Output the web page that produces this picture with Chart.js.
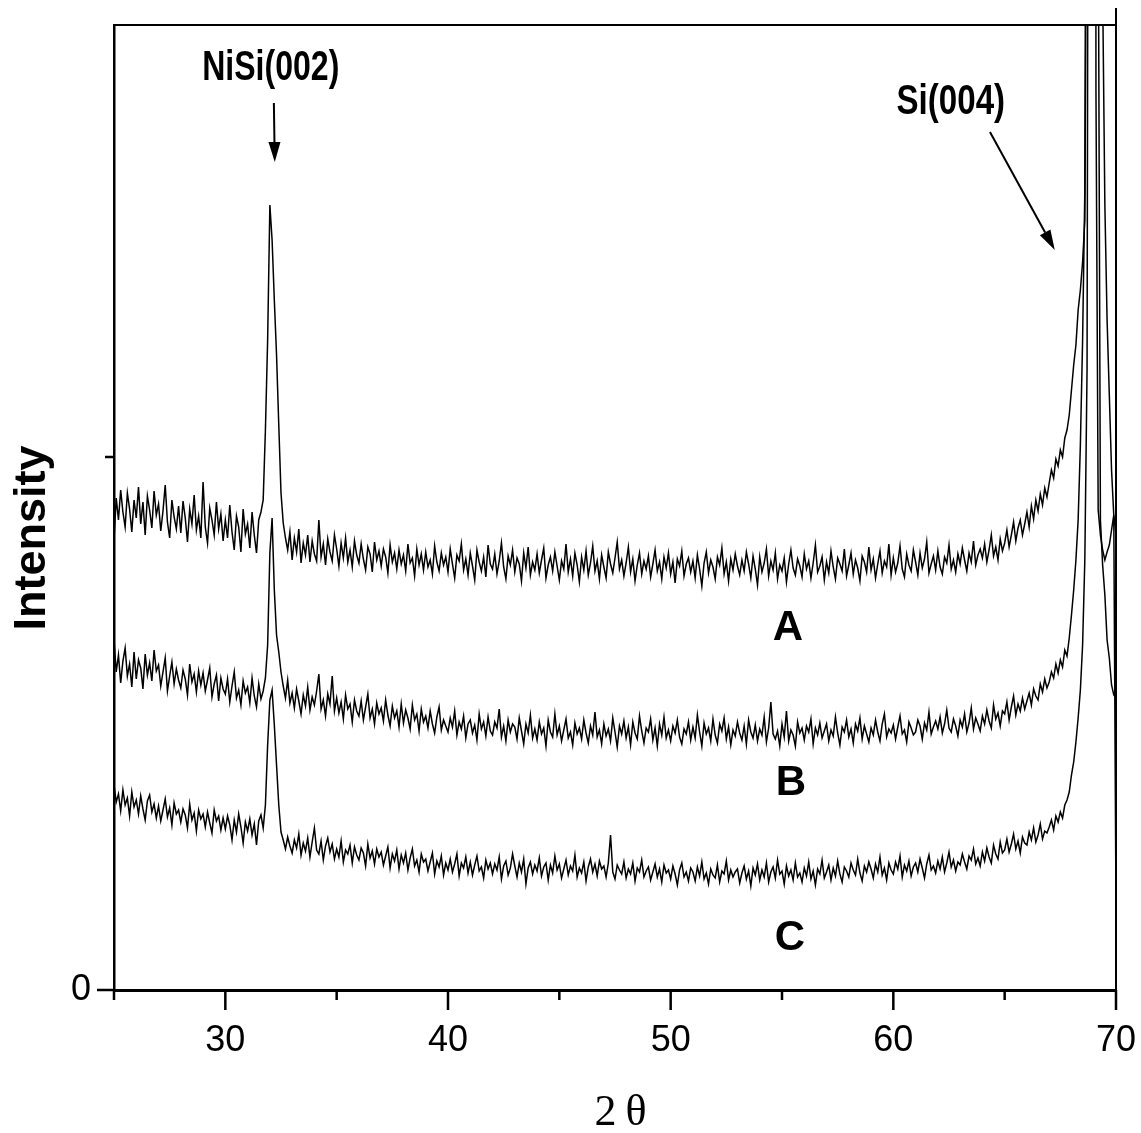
<!DOCTYPE html>
<html>
<head>
<meta charset="utf-8">
<script src="https://cdn.jsdelivr.net/npm/chart.js@4.4.1/dist/chart.umd.min.js"></script>
<style>
  html, body { margin: 0; padding: 0; background: #fff; }
  #c { display: block; }
</style>
</head>
<body>
<canvas id="c" width="1141" height="1133"></canvas>
<script>
// 2θ scan grid (degrees)
const scanStart = 25.0;
const scanStep = 0.1;

// Curve A intensities (a.u.), one value per 0.1° from 25.0 to 70.0
const seriesA = [
  450,492,470,500,478,463,497,481,458,490,
  472,503,466,488,455,494,480,462,499,475,
  486,459,479,505,468,452,490,473,461,484,
  457,489,472,448,481,466,495,460,474,452,
  508,463,447,482,470,455,488,461,476,449,
  470,452,485,458,440,474,463,438,481,456,
  466,442,478,455,437,470,478,490,560,650,
  785,750,690,635,565,497,467,452,440,458,
  430,452,438,461,427,447,435,455,428,449,
  436,429,470,433,446,425,451,438,429,455,
  441,424,447,432,452,428,440,423,449,435,
  427,446,431,420,443,436,418,448,430,439,
  424,441,433,417,445,428,437,421,440,426,
  435,419,446,427,432,414,441,425,436,420,
  438,423,430,416,444,428,419,437,425,433,
  418,441,426,412,435,429,446,420,431,415,
  437,424,410,440,428,419,433,413,445,426,
  421,436,416,429,447,423,411,434,425,440,
  418,432,426,409,437,422,443,415,428,420,
  436,417,430,442,412,425,433,419,438,424,
  410,429,421,446,418,431,414,437,425,408,
  433,420,439,415,427,444,419,429,411,435,
  423,412,438,426,417,432,448,421,430,414,
  427,443,418,431,409,425,437,416,429,421,
  434,413,426,440,419,428,411,433,422,437,
  416,428,407,431,424,439,414,426,432,418,
  429,412,435,421,404,427,438,417,430,423,
  411,433,425,442,416,428,409,431,420,436,
  424,415,430,419,438,426,412,434,421,405,
  433,418,427,441,414,429,420,437,411,425,
  419,432,408,426,440,422,415,431,424,413,
  436,421,429,412,427,445,418,424,433,410,
  428,417,439,423,411,432,426,419,441,414,
  425,437,416,430,422,409,434,428,418,443,
  420,431,412,426,439,417,429,423,446,415,
  432,418,427,444,421,413,436,425,419,440,
  428,415,437,422,431,448,417,426,434,420,
  439,423,416,433,427,445,421,430,418,436,
  426,442,430,419,437,428,449,425,435,441,
  432,446,428,440,455,434,443,430,451,439,
  447,460,443,455,468,449,462,470,455,466,
  478,463,484,471,490,479,496,485,502,493,
  507,520,512,531,524,540,533,552,560,575,
  600,625,645,680,700,728,770,1200,3000,5200,
  6000,4800,3000,1800,1000,785,670,595,520,475,
  455
];

// Curve B intensities (a.u.)
const seriesB = [
  350,318,335,307,329,342,314,326,303,338,
  311,330,322,301,336,315,327,309,340,319,
  325,304,318,332,299,314,328,306,321,310,
  302,320,311,295,326,308,316,298,319,305,
  317,299,310,322,293,306,315,289,312,301,
  296,311,288,304,318,292,300,285,309,297,
  303,287,312,294,283,306,291,299,312,345,
  437,472,400,355,338,318,304,292,310,287,
  297,282,301,289,276,295,284,303,280,293,
  285,299,316,281,290,274,296,286,314,279,
  292,277,288,271,295,281,286,268,290,279,
  274,289,270,283,296,272,281,266,287,276,
  282,269,290,275,264,284,272,279,263,286,
  267,280,272,261,285,270,276,259,281,268,
  274,262,279,266,257,273,283,260,270,264,
  258,272,263,279,255,268,261,274,252,266,
  270,257,265,250,276,261,268,254,273,259,
  255,268,262,281,253,264,249,270,258,266,
  263,251,272,259,246,266,257,275,252,261,
  250,268,256,262,244,270,258,253,276,255,
  264,249,260,271,252,258,245,267,256,262,
  251,270,257,247,264,255,278,253,260,246,
  266,254,261,249,272,258,243,264,256,269,
  252,263,245,268,257,251,274,259,247,262,
  258,271,250,262,244,266,255,273,252,260,
  249,264,257,270,253,246,261,256,268,250,
  263,252,275,258,244,267,256,262,249,271,
  255,247,266,259,272,251,263,245,260,254,
  268,257,250,264,246,270,258,252,265,249,
  261,255,273,248,262,288,256,251,259,244,
  266,253,279,249,260,255,244,268,257,262,
  250,264,258,271,246,262,255,267,252,259,
  266,249,260,254,273,257,245,263,258,270,
  253,261,247,266,259,272,251,264,256,248,
  262,255,270,258,249,266,276,253,261,257,
  265,251,263,274,256,260,248,268,262,255,
  258,270,264,251,267,260,278,256,263,269,
  261,273,257,266,280,262,258,271,264,254,
  270,263,276,258,267,282,261,272,266,259,
  274,266,280,269,262,285,271,277,264,279,
  276,288,270,283,294,275,286,279,292,281,
  289,297,285,301,294,290,306,298,311,302,
  308,318,312,326,317,330,323,340,334,352,
  375,400,430,470,545,650,800,1600,3800,5500,
  5000,2600,1100,470,425,395,350,332,305,295,
  292
];

// Curve C intensities (a.u.)
const seriesC = [
  205,188,196,179,200,185,192,174,198,183,
  190,176,194,181,170,189,195,178,186,172,
  184,169,180,191,173,182,165,187,176,180,
  168,181,175,162,186,170,177,159,180,171,
  176,163,178,167,157,180,169,174,160,172,
  161,174,165,150,170,158,176,163,147,168,
  159,171,155,166,145,169,175,162,185,245,
  290,300,265,225,185,158,150,141,153,144,
  137,150,142,156,135,147,139,152,133,148,
  162,140,136,149,130,144,152,138,146,131,
  141,133,149,128,140,136,145,127,143,135,
  130,142,137,124,146,132,139,126,141,133,
  138,125,134,143,122,136,129,140,121,135,
  127,137,120,132,141,124,130,118,136,128,
  131,119,128,137,116,129,123,134,115,127,
  120,131,118,126,136,114,127,122,133,117,
  128,115,125,134,119,123,112,130,121,127,
  116,126,120,133,111,124,129,115,122,136,
  124,113,127,118,131,106,122,128,116,125,
  119,132,114,123,127,110,125,117,134,120,
  126,112,121,130,115,124,119,135,113,122,
  117,128,109,123,131,118,126,114,129,121,
  124,113,127,155,118,111,125,120,116,128,
  112,121,116,127,109,122,118,130,113,119,
  123,110,118,126,113,121,108,125,117,120,
  111,124,116,105,120,127,113,118,109,122,
  118,109,123,114,128,111,117,106,121,115,
  112,125,108,119,116,129,110,120,113,118,
  121,107,117,124,111,119,104,122,115,126,
  110,120,113,127,108,118,123,112,130,116,
  119,106,124,114,120,110,127,113,117,108,
  122,114,128,111,119,105,121,116,130,112,
  118,125,110,122,114,129,116,108,123,119,
  113,127,120,115,131,117,109,124,118,128,
  121,112,126,118,133,115,122,110,127,120,
  116,128,121,134,113,125,119,129,114,123,
  127,118,131,122,112,126,135,120,124,117,
  129,121,133,118,127,138,123,130,119,128,
  125,136,128,121,134,130,141,126,132,124,
  138,129,142,133,127,145,136,131,148,137,
  140,151,138,146,156,141,149,137,153,147,
  145,158,150,162,148,155,166,151,159,157,
  163,170,160,174,168,178,172,185,190,198,
  215,228,248,272,300,345,430,620,1800,4500,
  3800,900,480,455,440,430,438,445,460,475,
  80
];

// Axis tick values
const xMajorTicks = [30, 40, 50, 60, 70];
const xMinorTicks = [25, 35, 45, 55, 65];
const yTickValues = [0, 533];
const yTickLabels = ['0', ''];

// Annotation texts
const peakLabels = ['NiSi(002)', 'Si(004)'];
const curveLabels = ['A', 'B', 'C'];

const twoTheta = seriesA.map((_, i) => +(scanStart + i * scanStep).toFixed(2));
const toPts = s => s.map((v, i) => ({ x: twoTheta[i], y: v }));

const zeroPad = s => { s.paddingTop = 0; s.paddingBottom = 0; s.paddingLeft = 0; s.paddingRight = 0; };

const decorPlugin = {
  id: 'decor',
  afterDraw(chart) {
    const ctx = chart.ctx;
    const xs = chart.scales.x, ys = chart.scales.y;
    const a = chart.chartArea;
    ctx.save();
    ctx.strokeStyle = '#000';
    ctx.fillStyle = '#000';
    // frame top/right
    ctx.lineWidth = 2;
    ctx.beginPath();
    ctx.moveTo(a.left, a.top); ctx.lineTo(a.right, a.top);
    ctx.moveTo(a.right, a.top - 17); ctx.lineTo(a.right, a.bottom);
    ctx.stroke();
    // x ticks (outward)
    ctx.lineWidth = 2.5;
    ctx.beginPath();
    xMajorTicks.forEach(v => { const p = xs.getPixelForValue(v); ctx.moveTo(p, a.bottom); ctx.lineTo(p, a.bottom + 20); });
    xMinorTicks.forEach(v => { const p = xs.getPixelForValue(v); ctx.moveTo(p, a.bottom); ctx.lineTo(p, a.bottom + 10); });
    ctx.stroke();
    // y ticks
    ctx.beginPath();
    yTickValues.forEach((v, i) => { const p = ys.getPixelForValue(v); ctx.moveTo(a.left, p); ctx.lineTo(a.left - (i === 0 ? 17 : 9), p); });
    ctx.stroke();

    const text = (t, x, y, font, sx) => {
      ctx.save();
      ctx.translate(x, y);
      ctx.scale(sx, 1);
      ctx.font = font;
      ctx.textAlign = 'center';
      ctx.textBaseline = 'alphabetic';
      ctx.fillText(t, 0, 0);
      ctx.restore();
    };
    const X = v => xs.getPixelForValue(v), Y = v => ys.getPixelForValue(v);
    // peak labels
    text(peakLabels[0], X(32.04), Y(910), 'bold 43px "Liberation Sans", Arial, sans-serif', 0.745);
    text(peakLabels[1], X(62.58), Y(876), 'bold 43px "Liberation Sans", Arial, sans-serif', 0.77);
    // curve labels
    text(curveLabels[0], X(55.27), Y(350), 'bold 42px "Liberation Sans", Arial, sans-serif', 1);
    text(curveLabels[1], X(55.4), Y(195), 'bold 42px "Liberation Sans", Arial, sans-serif', 1);
    text(curveLabels[2], X(55.35), Y(40), 'bold 42px "Liberation Sans", Arial, sans-serif', 1);

    // arrows
    const arrow = (x1, y1, x2, y2) => {
      const p1 = [X(x1), Y(y1)], p2 = [X(x2), Y(y2)];
      const ang = Math.atan2(p2[1] - p1[1], p2[0] - p1[0]);
      const L = 20, W = 6;
      const bx = p2[0] - L * Math.cos(ang), by = p2[1] - L * Math.sin(ang);
      ctx.lineWidth = 2;
      ctx.beginPath(); ctx.moveTo(p1[0], p1[1]); ctx.lineTo(bx, by); ctx.stroke();
      ctx.beginPath();
      ctx.moveTo(p2[0], p2[1]);
      ctx.lineTo(bx + W * Math.sin(ang), by - W * Math.cos(ang));
      ctx.lineTo(bx - W * Math.sin(ang), by + W * Math.cos(ang));
      ctx.closePath(); ctx.fill();
    };
    arrow(32.18, 887, 32.22, 828);
    arrow(64.34, 858, 67.25, 740);

    // axis titles
    ctx.save();
    ctx.translate(45, 538);
    ctx.rotate(-Math.PI / 2);
    ctx.font = 'bold 45px "Liberation Sans", Arial, sans-serif';
    ctx.textAlign = 'center';
    ctx.textBaseline = 'alphabetic';
    ctx.fillText('Intensity', 0, 0);
    ctx.restore();

    ctx.save();
    ctx.font = '44px "Liberation Serif", "Times New Roman", serif';
    ctx.textAlign = 'center';
    ctx.textBaseline = 'alphabetic';
    try { ctx.letterSpacing = '9px'; } catch (e) {}
    ctx.fillText('2θ', (a.left + a.right) / 2 + 10, 1125);
    ctx.restore();

    ctx.restore();
  }
};

const lineStyle = { borderColor: '#000', borderWidth: 1.5, pointRadius: 0, tension: 0, fill: false };

new Chart(document.getElementById('c'), {
  type: 'line',
  data: {
    datasets: [
      Object.assign({ label: 'A', data: toPts(seriesA) }, lineStyle),
      Object.assign({ label: 'B', data: toPts(seriesB) }, lineStyle),
      Object.assign({ label: 'C', data: toPts(seriesC) }, lineStyle)
    ]
  },
  options: {
    responsive: false,
    animation: false,
    devicePixelRatio: 1,
    layout: { padding: { left: 0, right: 25, top: 25, bottom: 0 } },
    plugins: { legend: { display: false }, tooltip: { enabled: false } },
    scales: {
      x: {
        type: 'linear',
        min: 25, max: 70,
        afterBuildTicks: s => { s.ticks = xMinorTicks.concat(xMajorTicks).sort((p, q) => p - q).map(v => ({ value: v })); },
        afterFit: s => { s.height = 143; zeroPad(s); },
        grid: { drawOnChartArea: false, drawTicks: false },
        border: { display: true, width: 3, color: '#000' },
        ticks: {
          autoSkip: false, maxRotation: 0, padding: 29, color: '#000',
          font: { family: '"Liberation Sans", Arial, sans-serif', size: 36 },
          callback: v => (xMajorTicks.includes(v) ? String(v) : '')
        }
      },
      y: {
        type: 'linear',
        min: 0, max: 965,
        afterBuildTicks: s => { s.ticks = yTickValues.map(v => ({ value: v })); },
        afterFit: s => { s.width = 114; zeroPad(s); },
        grid: { drawOnChartArea: false, drawTicks: false },
        border: { display: true, width: 2.5, color: '#000' },
        ticks: {
          padding: 23, color: '#000',
          font: { family: '"Liberation Sans", Arial, sans-serif', size: 36 },
          callback: v => yTickLabels[yTickValues.indexOf(v)] ?? ''
        }
      }
    }
  },
  plugins: [decorPlugin]
});
</script>
</body>
</html>
